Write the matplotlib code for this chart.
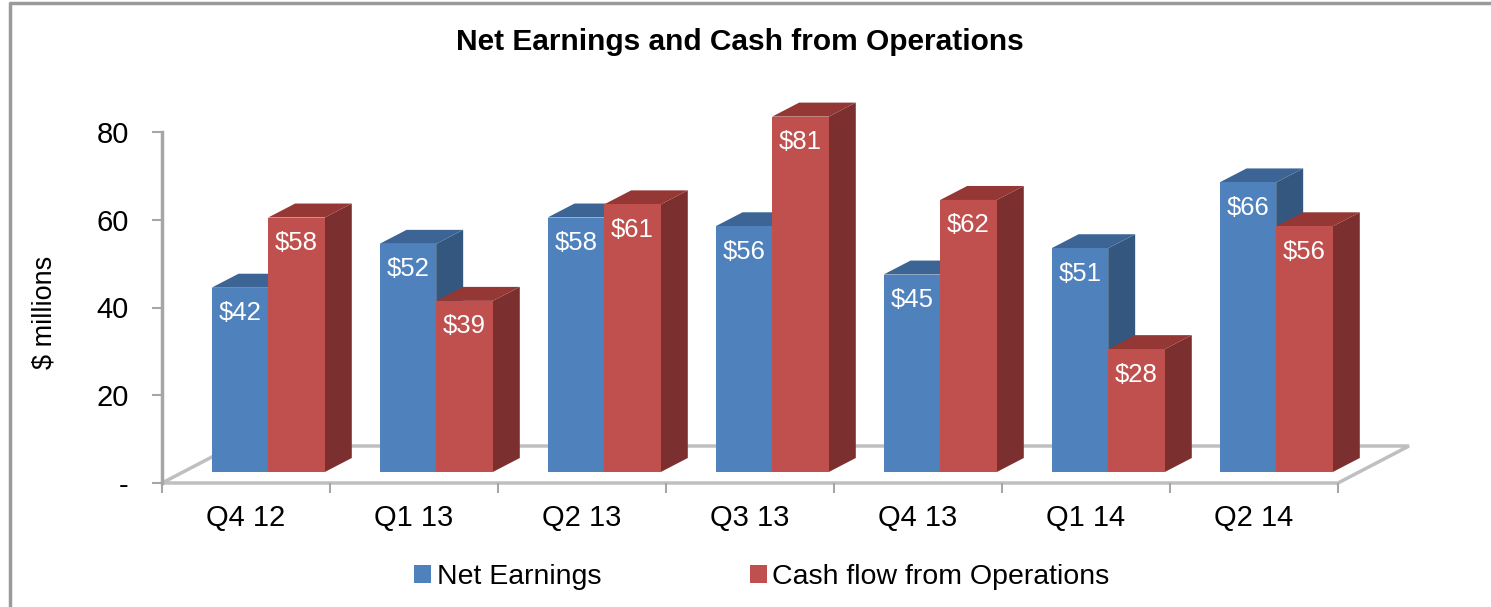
import matplotlib.pyplot as plt
from matplotlib.patches import Polygon
from matplotlib.lines import Line2D

# Dados (US$ milhoes)
categories = ["Q4 12", "Q1 13", "Q2 13", "Q3 13", "Q4 13", "Q1 14", "Q2 14"]
net_earnings = [42, 52, 58, 56, 45, 51, 66]
cash_flow = [58, 39, 61, 81, 62, 28, 56]
series_names = ["Net Earnings", "Cash flow from Operations"]
y_ticks = [0, 20, 40, 60, 80]
y_ticklabels = ["-", "20", "40", "60", "80"]

plt.rcParams['font.family'] = ['Liberation Sans', 'DejaVu Sans']

W, H = 1491, 607
fig = plt.figure(figsize=(W / 100, H / 100), dpi=100)

# area do grafico em pixels (y=0 na linha 483, y=80 na linha 132)
px0, px1, py0, py1 = 162, 1338, 483, 132
ax = fig.add_axes([px0 / W, 1 - py0 / H, (px1 - px0) / W, (py0 - py1) / H])
n = len(categories)
ax.set_xlim(0, n)
ax.set_ylim(0, 80)
ppx = (px1 - px0) / n          # pixels por categoria
ppy = (py0 - py1) / 80         # pixels por unidade

# profundidade 3D (em unidades de dados)
fdx, fdy = 71 / ppx, 37 / ppy  # piso
bdx, bdy = 27 / ppx, 14 / ppy  # barras
base = 11 / ppy                # barras ficam um pouco atras da borda do piso
bw = 0.337
off = [0.295, 0.295 + bw]

front = ["#4F81BD", "#C0504D"]
top = ["#3C6595", "#943735"]
side = ["#34577F", "#7B2F2E"]

# piso
floor = Polygon([(0, 0), (n, 0), (n + fdx, fdy), (fdx, fdy)], closed=True,
                facecolor="white", edgecolor="#BFBFBF", lw=2.5, clip_on=False, zorder=1)
ax.add_patch(floor)

containers = []
for s, vals in enumerate([net_earnings, cash_flow]):
    xs = [i + off[s] for i in range(n)]
    bars = ax.bar(xs, vals, width=bw, bottom=base, align="edge", color=front[s],
                  label=series_names[s], clip_on=False)
    containers.append(bars)
    for i, (b, v) in enumerate(zip(bars, vals)):
        z = 10 + 4 * i + 2 * s
        x = b.get_x()
        w = b.get_width()
        y_top = base + v
        sd = Polygon([(x + w, base), (x + w + bdx, base + bdy), (x + w + bdx, y_top + bdy), (x + w, y_top)],
                     closed=True, facecolor=side[s], edgecolor="none", clip_on=False, zorder=z)
        tp = Polygon([(x, y_top), (x + w, y_top), (x + w + bdx, y_top + bdy), (x + bdx, y_top + bdy)],
                     closed=True, facecolor=top[s], edgecolor="none", clip_on=False, zorder=z)
        ax.add_patch(sd)
        ax.add_patch(tp)
        b.set_zorder(z + 1)
        ax.text(x + w / 2, y_top - 5.8, f"${v}", color="white", fontsize=18.5,
                ha="center", va="center", zorder=100)

# eixos
for sp in ["top", "right", "bottom"]:
    ax.spines[sp].set_visible(False)
ax.spines["left"].set_bounds(0, 80)
ax.spines["left"].set_color("#A6A6A6")
ax.spines["left"].set_linewidth(2.5)
ax.spines["left"].set_zorder(2)
ax.set_yticks(y_ticks)
ax.set_yticklabels(y_ticklabels)
ax.tick_params(axis="y", direction="out", length=7, width=1.5, color="#A6A6A6",
               labelsize=21, pad=17)
ax.set_xticks(range(n + 1))
ax.set_xticklabels([])
ax.set_xticks([i + 0.5 for i in range(n)], minor=True)
ax.set_xticklabels(categories, minor=True)
ax.tick_params(axis="x", which="major", direction="out", length=7, width=1.5, color="#A6A6A6")
ax.tick_params(axis="x", which="minor", length=0, labelsize=21, pad=15)
ax.patch.set_alpha(0)

fig.text(740 / W, 1 - 42 / H, "Net Earnings and Cash from Operations",
         fontsize=21.5, fontweight="bold", ha="center", va="center")
fig.text(45 / W, 1 - 312 / H, "$ millions", rotation=90, fontsize=19.5,
         ha="center", va="center")

fig.legend(handles=containers, labels=series_names, loc="center",
           bbox_to_anchor=(762 / W, 1 - 577 / H), ncol=2, frameon=False,
           handlelength=0.6, handleheight=0.6, handletextpad=0.2,
           columnspacing=5.2, fontsize=20.5)

# moldura
fig.add_artist(Line2D([10 / W, 10 / W, 1], [0, 1 - 2.5 / H, 1 - 2.5 / H],
                      transform=fig.transFigure, color="#9A9A9A", lw=2.5))

fig.savefig("out.png", dpi=100)
